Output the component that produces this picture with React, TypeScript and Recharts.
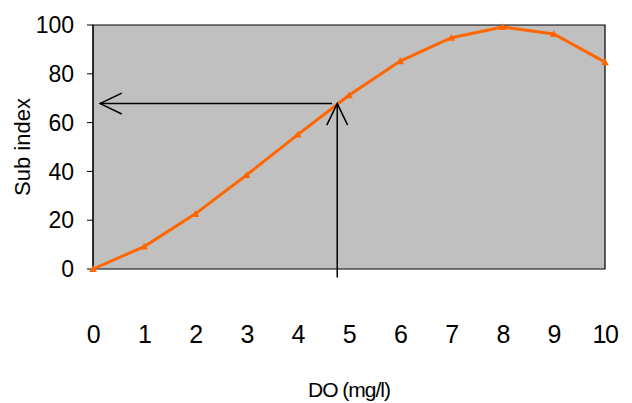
import { LineChart, Line, XAxis, YAxis, ReferenceArea, ReferenceLine } from 'recharts'

const DO_VALUES = [0, 1, 2, 3, 4, 5, 6, 7, 8, 9, 10]
const SUB_INDEX = [0, 9.2, 22.6, 38.5, 55.1, 71.2, 85.2, 94.8, 99.2, 96.3, 84.8]
const X_TICKS = [0, 1, 2, 3, 4, 5, 6, 7, 8, 9, 10]
const Y_TICKS = [0, 20, 40, 60, 80, 100]

// reading shown by the arrows: DO ~4.77 mg/l -> sub index ~68
const READ_DO = 4.77
const READ_SI = 67.8
const ARROW_START_Y = -3.5
const ARROW_END_X = 0.14

const data = DO_VALUES.map((x, i) => ({ x, y: SUB_INDEX[i] }))

const FONT = '"Liberation Sans", Arial, sans-serif'
const ORANGE = '#FF6600'

function Triangle(props: any) {
  const { cx, cy } = props
  if (cx == null || cy == null) return null
  const s = 3.8
  return <polygon points={`${cx},${cy - s} ${cx - s},${cy + s * 0.8} ${cx + s},${cy + s * 0.8}`} fill={ORANGE} />
}

// line with an open V arrowhead at (x2, y2)
function arrowShape(p: any) {
  const { x1, y1, x2, y2 } = p
  const ang = Math.atan2(y1 - y2, x1 - x2)
  const len = 24
  const spread = 0.45
  const ax = x2 + len * Math.cos(ang + spread)
  const ay = y2 + len * Math.sin(ang + spread)
  const bx = x2 + len * Math.cos(ang - spread)
  const by = y2 + len * Math.sin(ang - spread)
  return (
    <g>
      <line x1={x1} y1={y1} x2={x2} y2={y2} stroke="#000" strokeWidth={1.5} />
      <polyline points={`${ax},${ay} ${x2},${y2} ${bx},${by}`} fill="none" stroke="#000" strokeWidth={1.5} />
    </g>
  )
}

export default function App() {
  return (
    <div style={{ position: 'absolute', left: 0, top: 0, background: '#fff' }}>
      <LineChart width={632} height={403} data={data} margin={{ top: 25, right: 27, left: 0, bottom: 0 }} style={{ fontFamily: FONT }}>
        <XAxis
          dataKey="x"
          type="number"
          domain={[0, 10]}
          ticks={X_TICKS}
          height={134}
          axisLine={false}
          tickLine={false}
          tickMargin={50}
          tick={{ fontSize: 25, fill: '#000', letterSpacing: -1.5 }}
          label={{ value: 'DO (mg/l)', position: 'insideBottom', offset: 6, fill: '#000', fontSize: 21, style: { letterSpacing: -1 } }}
        />
        <YAxis
          type="number"
          domain={[0, 100]}
          ticks={Y_TICKS}
          width={93}
          axisLine={{ stroke: '#000' }}
          tickLine={{ stroke: '#000' }}
          tickSize={6}
          tickMargin={13}
          tick={{ fontSize: 23, fill: '#000' }}
          label={{ value: 'Sub index', angle: -90, position: 'insideLeft', offset: 22, fill: '#000', fontSize: 22, style: { textAnchor: 'middle' } }}
        />
        <ReferenceArea x1={0} x2={10} y1={0} y2={100} fill="#C0C0C0" fillOpacity={1} stroke="#000" strokeWidth={1.2} />
        <Line
          dataKey="y"
          stroke={ORANGE}
          strokeWidth={3}
          dot={<Triangle />}
          activeDot={false}
          isAnimationActive={false}
        />
        <ReferenceLine
          segment={[{ x: READ_DO, y: ARROW_START_Y }, { x: READ_DO, y: READ_SI }]}
          ifOverflow="visible"
          shape={arrowShape}
        />
        <ReferenceLine
          segment={[{ x: READ_DO - 0.1, y: READ_SI }, { x: ARROW_END_X, y: READ_SI }]}
          ifOverflow="visible"
          shape={arrowShape}
        />
      </LineChart>
    </div>
  )
}
